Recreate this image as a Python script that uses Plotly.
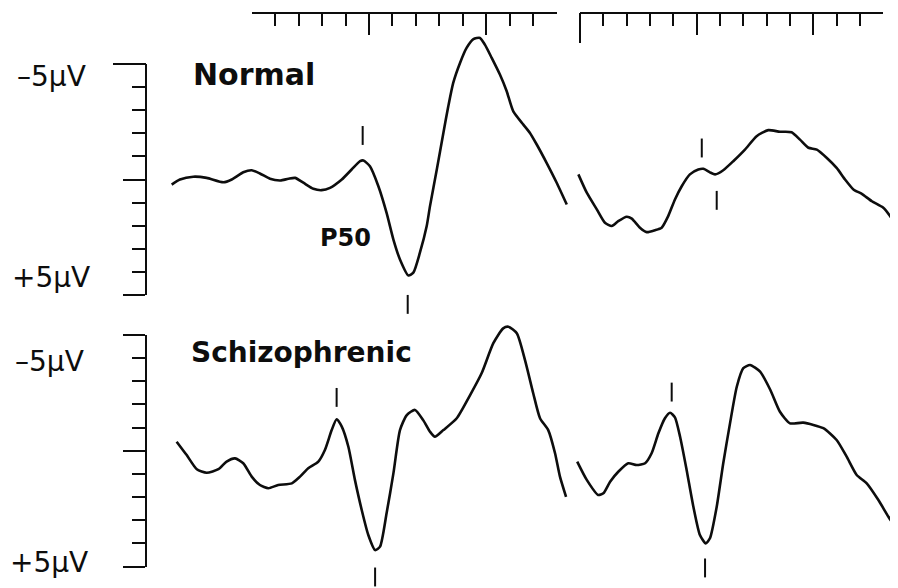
import plotly.graph_objects as go

# ---------------- data (time in ms, amplitude in microvolts; negative is up) ----------------
normal_cond_t = [-34.1, -30.6, -24.9, -19.2, -12.1, -8.5, -3.6, 0.0, 3.5, 7.8, 12.2, 15.6, 18.5, 22.0,
                 26.3, 29.8, 33.4, 38.4, 42.6, 46.2, 47.6, 50.4, 54.0, 57.5, 60.4, 63.2, 66.8, 68.9,
                 71.7, 74.6, 76.0, 78.9, 81.7, 83.8, 85.9, 88.8, 91.6, 94.5, 97.3, 99.4, 102.3, 105.8,
                 108.7, 111.5, 115.8, 118.6, 121.5, 125.7, 130.0, 134.3]
normal_cond_uv = [0.22, 0.0, -0.12, -0.07, 0.12, 0.0, -0.31, -0.40, -0.26, -0.03, 0.04, -0.03, -0.07, 0.14,
                  0.40, 0.46, 0.36, 0.0, -0.43, -0.79, -0.82, -0.57, 0.29, 1.44, 2.59, 3.45, 4.14, 4.02,
                  3.16, 2.01, 1.15, -0.43, -2.01, -3.16, -4.17, -5.03, -5.68, -6.06, -6.11, -5.82, -5.25, -4.53,
                  -3.81, -2.94, -2.37, -2.01, -1.51, -0.72, 0.14, 1.08]

normal_test_t = [-0.7, 2.9, 7.2, 10.7, 13.6, 16.4, 20.0, 22.2, 25.7, 28.6, 32.1, 35.0, 37.8, 40.7, 43.6,
                 47.1, 50.7, 52.9, 55.7, 57.9, 61.4, 65.7, 70.7, 75.7, 80.7, 85.7, 90.7, 94.3, 97.9,
                 101.5, 105.7, 110.0, 113.6, 117.2, 120.8, 125.1, 130.0, 132.9, 136.0]
normal_test_uv = [-0.22, 0.57, 1.29, 1.87, 2.01, 1.80, 1.61, 1.69, 2.08, 2.27, 2.19, 2.08, 1.58, 0.86, 0.29,
                  -0.22, -0.43, -0.46, -0.31, -0.22, -0.40, -0.79, -1.29, -1.87, -2.13, -2.06, -2.04, -1.72, -1.37,
                  -1.29, -0.94, -0.50, 0.0, 0.43, 0.62, 0.94, 1.22, 1.58, 2.08]

schizo_cond_t = [-32.0, -27.7, -23.4, -19.2, -14.2, -10.7, -7.1, -3.6, 0.0, 3.5, 7.1, 11.3, 17.1, 20.6,
                 24.1, 28.4, 31.2, 34.1, 36.2, 38.4, 41.2, 44.0, 46.9, 49.7, 52.6, 54.7, 57.5, 60.4,
                 63.2, 66.1, 69.6, 73.1, 76.0, 78.1, 81.7, 87.4, 93.1, 98.0, 103.0, 107.2, 109.4, 113.0,
                 116.5, 120.0, 122.9, 126.4, 129.3, 131.4, 134.0]
schizo_cond_uv = [-0.39, 0.19, 0.80, 0.95, 0.80, 0.47, 0.33, 0.54, 1.12, 1.48, 1.62, 1.48, 1.41, 1.12,
                  0.76, 0.47, -0.03, -0.89, -1.36, -1.04, -0.17, 1.26, 2.56, 3.64, 4.29, 4.14, 2.70, 0.98,
                  -0.89, -1.54, -1.76, -1.32, -0.82, -0.60, -0.89, -1.40, -2.40, -3.34, -4.64, -5.28, -5.35, -5.07,
                  -3.91, -2.48, -1.40, -0.89, 0.11, 1.12, 1.99]

schizo_test_t = [-1.2, 2.9, 7.8, 10.0, 12.9, 16.4, 20.7, 24.3, 27.9, 30.7, 33.6, 36.4, 38.6, 40.7, 42.9,
                 45.7, 48.6, 51.4, 53.9, 55.7, 58.6, 61.4, 64.3, 67.2, 70.0, 72.9, 77.2, 81.6, 85.7,
                 90.0, 95.7, 104.3, 110.0, 114.3, 118.6, 122.9, 127.9, 132.2, 136.0]
schizo_test_uv = [0.47, 1.26, 1.91, 1.84, 1.34, 0.91, 0.54, 0.62, 0.54, 0.11, -0.75, -1.40, -1.64, -1.44, -0.60,
                  0.83, 2.42, 3.64, 4.00, 3.78, 2.42, 0.54, -1.18, -2.76, -3.56, -3.70, -3.41, -2.62, -1.68,
                  -1.18, -1.21, -0.97, -0.46, 0.26, 1.05, 1.41, 2.13, 2.85, 3.42]

# latency markers (ms, microvolts)
normal_cond_mark_t = [47.3, 66.5]
normal_cond_mark_uv = [-1.90, 5.39]
normal_test_mark_t = [52.2, 58.6]
normal_test_mark_uv = [-1.36, 0.90]
schizo_cond_mark_t = [36.2, 52.6]
schizo_cond_mark_uv = [-2.30, 5.45]
schizo_test_mark_t = [39.3, 53.6]
schizo_test_mark_uv = [-2.53, 5.06]

group_labels = ["Normal", "Schizophrenic"]
amp_labels = ["\u20135\u03bcV", "+5\u03bcV"]
peak_label = "P50"
ruler_ms = 130       # length of time rulers
ruler_uv = 5         # half height of amplitude rulers

# ---------------- geometry (window pixels) ----------------
# the page body has an 8px margin, so the figure is shifted by OFF inside the window
OFF = 8
W, H = 898 - OFF, 588 - OFF
def fx(p):
    return (p - OFF) / W
def fy(p):
    return 1 - (p - OFF) / H

L0, LS = 251.7, 2.346     # left time origin px, px per ms
R0, RS = 580.0, 2.333     # right time origin px, px per ms
Z1, Z2, VS = 179.5, 450.7, 23.17  # zero lines rows, px per microvolt
RULER_Y = 13.3
AMP_X = 145.7
INK = "#0d0d0d"
FONT = "DejaVu Sans"

def xrange_for(p0, p1, origin, scale):
    return [(p0 - origin) / scale, (p1 - origin) / scale]

def yrange_for(ptop, pbot, zero):
    return [(pbot - zero) / VS, (ptop - zero) / VS]

fig = go.Figure()

def wave(t, v, xa, ya):
    fig.add_trace(go.Scatter(x=t, y=v, xaxis=xa, yaxis=ya, mode="lines",
                             line=dict(color=INK, width=2.6, shape="spline", smoothing=0.6),
                             hoverinfo="skip", showlegend=False))

def marks(t, v, xa, ya):
    fig.add_trace(go.Scatter(x=t, y=v, xaxis=xa, yaxis=ya, mode="markers",
                             marker=dict(symbol="line-ns", size=13.5, color=INK,
                                         line=dict(color=INK, width=2)),
                             hoverinfo="skip", showlegend=False))

def dummy(xa, ya):
    fig.add_trace(go.Scatter(x=[0], y=[0], xaxis=xa, yaxis=ya, mode="markers",
                             marker=dict(opacity=0), hoverinfo="skip", showlegend=False))

wave(normal_cond_t, normal_cond_uv, "x", "y")
wave(normal_test_t, normal_test_uv, "x2", "y")
wave(schizo_cond_t, schizo_cond_uv, "x", "y2")
wave(schizo_test_t, schizo_test_uv, "x2", "y2")
marks(normal_cond_mark_t, normal_cond_mark_uv, "x", "y")
marks(normal_test_mark_t, normal_test_mark_uv, "x2", "y")
marks(schizo_cond_mark_t, schizo_cond_mark_uv, "x", "y2")
marks(schizo_test_mark_t, schizo_test_mark_uv, "x2", "y2")

# ruler axes need a subplot to be drawn
dummy("x3", "y")
dummy("x4", "y")
dummy("x", "y3")
dummy("x", "y4")
dummy("x4", "y5")
dummy("x5", "y3")

hidden = dict(visible=False, showgrid=False, zeroline=False, fixedrange=True)

time_ruler = dict(range=[0, ruler_ms], anchor="free", position=fy(RULER_Y), side="top",
                  showline=True, linecolor=INK, linewidth=2, showgrid=False, zeroline=False,
                  ticks="inside", tick0=0, dtick=50, ticklen=21, tickwidth=2, tickcolor=INK,
                  showticklabels=False,
                  minor=dict(dtick=10, tick0=0, ticks="inside", ticklen=12, tickwidth=2,
                             tickcolor=INK, showgrid=False))

amp_ruler = dict(range=[ruler_uv, -ruler_uv], anchor="free", position=fx(AMP_X), side="left",
                 showline=True, linecolor=INK, linewidth=2, showgrid=False, zeroline=False,
                 ticks="outside", tick0=0, dtick=5, ticklen=22, tickwidth=2, tickcolor=INK,
                 showticklabels=False,
                 minor=dict(dtick=1, tick0=0, ticks="outside", ticklen=12.5, tickwidth=2,
                            tickcolor=INK, showgrid=False))

fig.update_layout(
    width=W, height=H, autosize=False,
    margin=dict(l=0, r=0, t=0, b=0),
    paper_bgcolor="white", plot_bgcolor="rgba(0,0,0,0)",
    showlegend=False,
    xaxis=dict(domain=[fx(160), fx(572)], range=xrange_for(160, 572, L0, LS), anchor="y", **hidden),
    xaxis2=dict(domain=[fx(572), 1], range=xrange_for(572, 898, R0, RS), anchor="y", **hidden),
    yaxis=dict(domain=[fy(318), 1], range=yrange_for(OFF, 318, Z1), anchor="x", **hidden),
    yaxis2=dict(domain=[0, fy(318)], range=yrange_for(318, 588, Z2), anchor="x", **hidden),
    xaxis3=dict(domain=[fx(L0), fx(L0 + ruler_ms * LS)], **time_ruler),
    xaxis4=dict(domain=[fx(R0), fx(R0 + ruler_ms * RS)], **time_ruler),
    yaxis3=dict(domain=[fy(Z1 + ruler_uv * VS), fy(Z1 - ruler_uv * VS)], **amp_ruler),
    yaxis4=dict(domain=[fy(Z2 + ruler_uv * VS), fy(Z2 - ruler_uv * VS)], **amp_ruler),
    # extended end strokes of the rulers
    yaxis5=dict(domain=[fy(43), fy(RULER_Y)], anchor="free", position=fx(R0), showline=True,
                linecolor=INK, linewidth=2, showgrid=False, zeroline=False, ticks="",
                showticklabels=False, range=[0, 1]),
    xaxis5=dict(domain=[fx(113), fx(AMP_X)], anchor="free", position=fy(Z1 - ruler_uv * VS),
                showline=True, linecolor=INK, linewidth=2, showgrid=False, zeroline=False,
                ticks="", showticklabels=False, range=[0, 1]),
)

def label(text, px, py, size, bold=False, xanchor="center"):
    fig.add_annotation(text=text, x=fx(px), y=fy(py), xref="paper", yref="paper",
                       xanchor=xanchor, yanchor="middle", showarrow=False,
                       font=dict(family=FONT, size=size, color=INK,
                                 weight="bold" if bold else "normal"))

label(amp_labels[0], 51, 77, 28)
label(amp_labels[1], 51, 278, 28)
label(amp_labels[0], 49, 361, 28)
label(amp_labels[1], 49, 562, 28)
label(group_labels[0], 191, 74, 30, bold=True, xanchor="left")
label(group_labels[1], 189, 352, 28, bold=True, xanchor="left")
label(peak_label, 345, 238, 24, bold=True)

fig.write_html("out.html")
